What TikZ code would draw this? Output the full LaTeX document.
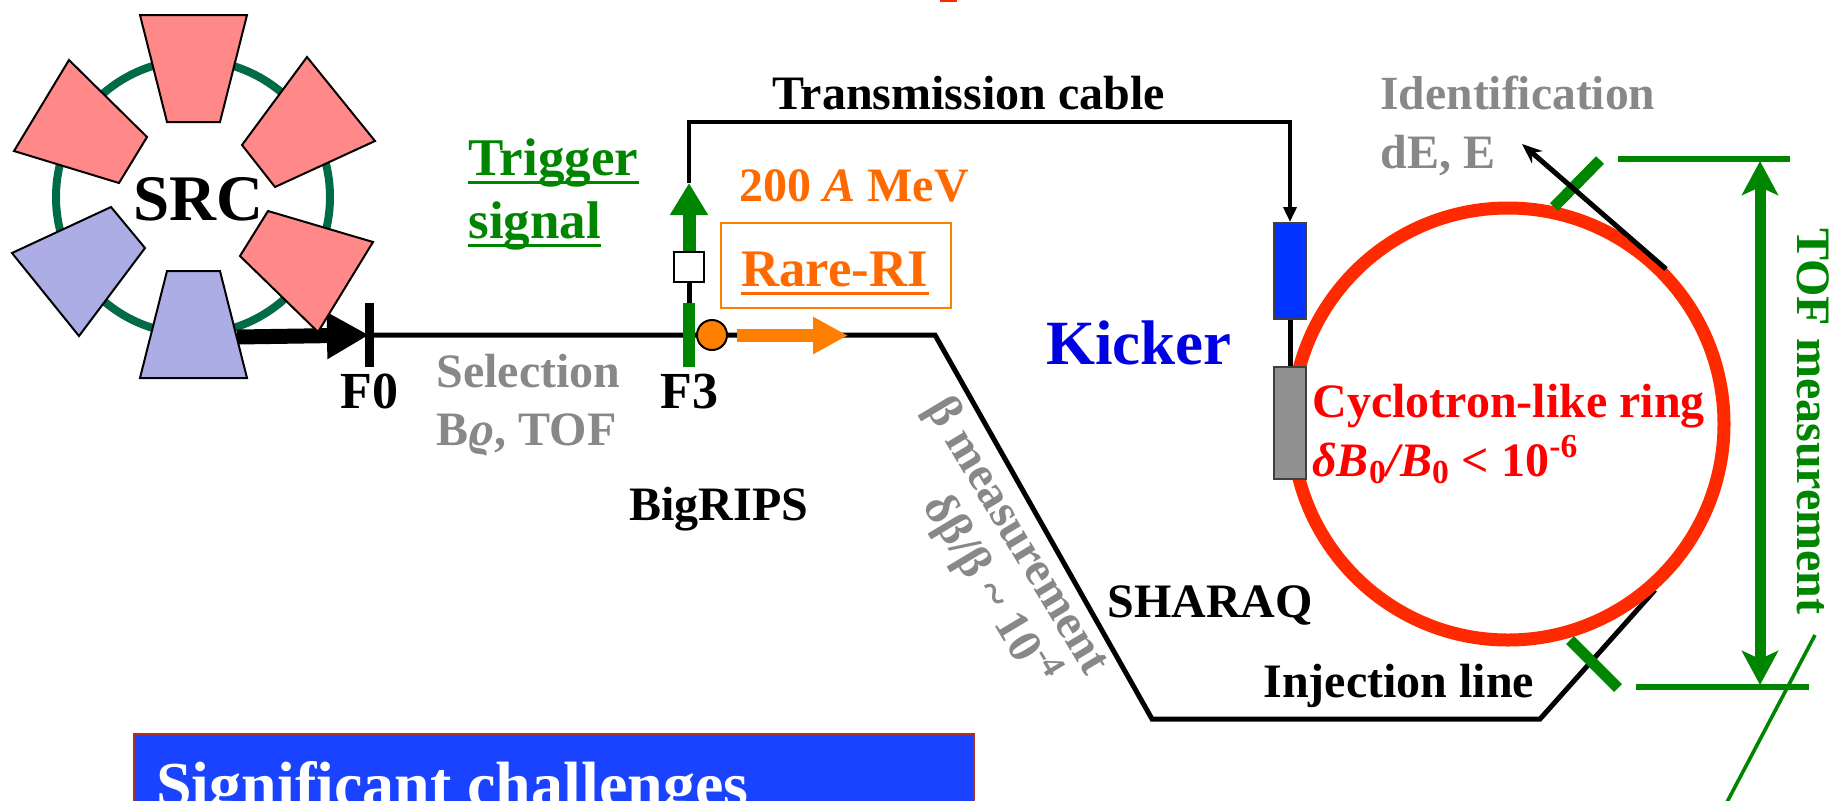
\documentclass[tikz,border=0pt]{standalone}
\usepackage{fontspec}
\setmainfont{Liberation Serif}
\usetikzlibrary{arrows.meta,positioning,calc}

\definecolor{magred}{HTML}{FF8888}
\definecolor{magblue}{HTML}{ADADE6}
\definecolor{srcgreen}{HTML}{006B45}
\definecolor{trggreen}{HTML}{008500}
\definecolor{rioran}{HTML}{FF6A00}
\definecolor{beamoran}{HTML}{FF7F00}
\definecolor{ringred}{HTML}{FF2A00}
\definecolor{labgray}{HTML}{888888}
\definecolor{kickblue}{HTML}{0033FF}
\definecolor{chalblue}{HTML}{1A43FF}
\definecolor{chalred}{HTML}{B03020}

\tikzset{
	lbl/.style={anchor=base west, inner sep=0, font=\bfseries\fontsize{24}{26}\selectfont},
	magnet/.style={draw=black, line width=1pt},
	beamline/.style={line width=2.5pt, black},
	tick/.style={line width=5.5pt, trggreen},
	tofline/.style={line width=2.8pt, trggreen},
	stripnode/.style={rectangle, inner sep=0, draw=none, fill=#1}
}

\begin{document}
\begin{tikzpicture}[x=0.5pt,y=-0.5pt]
	\useasboundingbox (0,0) rectangle (1830,800);
	\clip (0,0) rectangle (1830,800);

	% Stray mark at the top edge
	\fill[ringred] (940,0) rectangle (957,2);

	% SRC ring
	\draw[srcgreen, line width=4pt] (193,197) circle [radius=137];
	\coordinate (srcout) at (237,337);

	% Beam line through BigRIPS and SHARAQ
	\node[stripnode=black, minimum width=4.5pt, minimum height=32pt] (f0) at (369,335) {};
	\coordinate (bendA) at (935,335);
	\coordinate (bendB) at (1152,719);
	\coordinate (bendC) at (1540,719);
	\coordinate (bendD) at (1655,590);
	\draw[beamline, line join=miter] (f0.center) -- (bendA) -- (bendB) -- (bendC) -- (bendD);
	\draw[-{Triangle[length=21pt,width=22pt]}, line width=7.5pt] (srcout) -- (f0.center);

	% SRC sectors
	\draw[magnet, fill=magred] (140,15) -- (247,15) -- (220,122) -- (167,122) -- cycle;
	\draw[magnet, fill=magred] (69,60) -- (147,137) -- (119,183) -- (14,151) -- cycle;
	\draw[magnet, fill=magred] (307,57) -- (375,141) -- (275,187) -- (242,145) -- cycle;
	\draw[magnet, fill=magred] (268,211) -- (373,242) -- (318,332) -- (240,256) -- cycle;
	\draw[magnet, fill=magblue] (111,207) -- (145,248) -- (79,336) -- (12,253) -- cycle;
	\draw[magnet, fill=magblue] (167,271) -- (220,271) -- (247,378) -- (140,378) -- cycle;
	\node[lbl, font=\bfseries\fontsize{32.5}{34}\selectfont] (src) at (133,220) {SRC};
	\node[lbl, font=\bfseries\fontsize{26}{28}\selectfont] (f0lab) at (340,408) {F0};

	% F3 detector and trigger path
	\node[rectangle, draw=black, fill=white, line width=1pt, minimum width=15pt, minimum height=15pt, inner sep=0] (gate) at (689,267) {};
	\node[stripnode=trggreen, minimum width=6pt, minimum height=32pt] (f3) at (689,335) {};
	\coordinate (trigtip) at (689,183);
	\draw[beamline] (f3.north) -- (gate.south);
	\draw[-{Triangle[length=16pt,width=18pt]}, line width=6.5pt, trggreen] (gate.north) -- (trigtip);
	\node[circle, draw=black, fill=beamoran, line width=1pt, minimum size=15pt, inner sep=0] (rare) at (712,335) {};
	\coordinate (rareA) at (737,335.5);
	\coordinate (rareB) at (848,335.5);
	\draw[-{Triangle[length=17.5pt,width=17.5pt]}, line width=6.5pt, beamoran] (rareA) -- (rareB);

	% Kicker and transmission cable
	\node[rectangle, draw=black!75, fill=kickblue, line width=1pt, minimum width=16pt, minimum height=48pt, inner sep=0] (kick) at (1290,271) {};
	\coordinate (cablecorner) at (1290,122);
	\draw[line width=1.8pt, -{Triangle[length=7.5pt,width=6.5pt]}] (trigtip) |- (cablecorner) -- (kick.north);

	% Ring
	\draw[ringred, line width=6.5pt] (1508,424) circle [radius=216];
	\node[rectangle, draw=black!75, fill=black!43, line width=1pt, minimum width=16pt, minimum height=56pt, inner sep=0] (plate) at (1290,423) {};
	\draw[beamline] (kick.south) -- (plate.north);

	% Ring exit and TOF markers
	\coordinate (tickAa) at (1600,160);
	\coordinate (tickAb) at (1554,207);
	\coordinate (tickBa) at (1570,640);
	\coordinate (tickBb) at (1618,688);
	\draw[tick] (tickAa) -- (tickAb);
	\draw[tick] (tickBa) -- (tickBb);
	\coordinate (exitA) at (1666,269);
	\coordinate (exitB) at (1522,144);
	\draw[-{Stealth[length=10pt,width=8pt]}, line width=2.5pt] (exitA) -- (exitB);

	% TOF span
	\coordinate (tofAa) at (1618,159);
	\coordinate (tofAb) at (1790,159);
	\coordinate (tofBa) at (1636,687);
	\coordinate (tofBb) at (1809,687);
	\draw[tofline] (tofAa) -- (tofAb);
	\draw[tofline] (tofBa) -- (tofBb);
	\coordinate (spanA) at (1760,161);
	\coordinate (spanB) at (1760,685);
	\draw[{Stealth[length=17pt,width=18pt,inset=4pt]}-{Stealth[length=17pt,width=18pt,inset=4pt]}, line width=5.5pt, trggreen] (spanA) -- (spanB);
	\coordinate (slantA) at (1815,635);
	\coordinate (slantB) at (1727,802);
	\draw[line width=1.8pt, trggreen] (slantA) -- (slantB);

	% Labels
	\node[lbl, font=\bfseries\fontsize{24}{26}\selectfont] (cable) at (772,109) {Transmission cable};
	\node[lbl, trggreen, font=\bfseries\fontsize{26.5}{28}\selectfont] (trig) at (468,175) {Trigger};
	\node[lbl, trggreen, font=\bfseries\fontsize{26.5}{28}\selectfont] (sig) at (468,238) {signal};
	\node[lbl, rioran] (energy) at (739,201) {200 \textit{A} MeV};
	\node[rectangle, draw=beamoran, line width=1pt, minimum width=115pt, minimum height=42.5pt, inner sep=0] (ribox) at (836,265.5) {};
	\node[lbl, rioran, font=\bfseries\fontsize{26.4}{28}\selectfont] (rari) at (741,286) {Rare-RI};
	\node[lbl, labgray] (sela) at (436,387) {Selection};
	\node[lbl, labgray] (selb) at (436,445) {B\textit{ϱ}, TOF};
	\node[lbl, font=\bfseries\fontsize{26}{28}\selectfont] (f3lab) at (660,408) {F3};
	\node[lbl] (bigrips) at (629,520) {BigRIPS};
	\node[lbl, blue!90!black, font=\bfseries\fontsize{31.5}{33}\selectfont] (kicklab) at (1046,364) {Kicker};
	\node[lbl, labgray, rotate=-59] (betaa) at (925,408) {β measurement};
	\node[lbl, labgray, rotate=-59] (betab) at (922,505) {δβ/β \textasciitilde\ 10\textsuperscript{-4}};
	\node[lbl] (sharaq) at (1107,617) {SHARAQ};
	\node[lbl] (inj) at (1263,697) {Injection line};
	\node[lbl, red] (cyc) at (1312,417) {Cyclotron-like ring};
	\node[lbl, red] (dbb) at (1312,476) {\textit{δB}\textsubscript{0}\textit{/B}\textsubscript{0} < 10\textsuperscript{-6}};
	\node[lbl, labgray, font=\bfseries\fontsize{23.8}{26}\selectfont] (ida) at (1380,109) {Identification};
	\node[lbl, labgray] (idb) at (1380,168) {dE, E};
	\node[lbl, trggreen, rotate=-90] (toflab) at (1797,228) {TOF measurement};

	% Underlines
	\draw[line width=1.5pt, trggreen] ($(trig.base west)+(0,7)$) -- ($(trig.base east)+(0,7)$);
	\draw[line width=1.5pt, trggreen] ($(sig.base west)+(0,7)$) -- ($(sig.base east)+(0,7)$);
	\draw[line width=1.5pt, rioran] ($(rari.base west)+(0,7)$) -- ($(rari.base east)+(0,7)$);

	% Challenges box
	\node[rectangle, draw=chalred, fill=chalblue, line width=1.2pt, minimum width=420pt, minimum height=60pt, inner sep=0, anchor=north west] (chal) at (133,733) {};
	\node[lbl, white, font=\bfseries\fontsize{32}{34}\selectfont] (challab) at (156,806) {Significant challenges};
\end{tikzpicture}
\end{document}
